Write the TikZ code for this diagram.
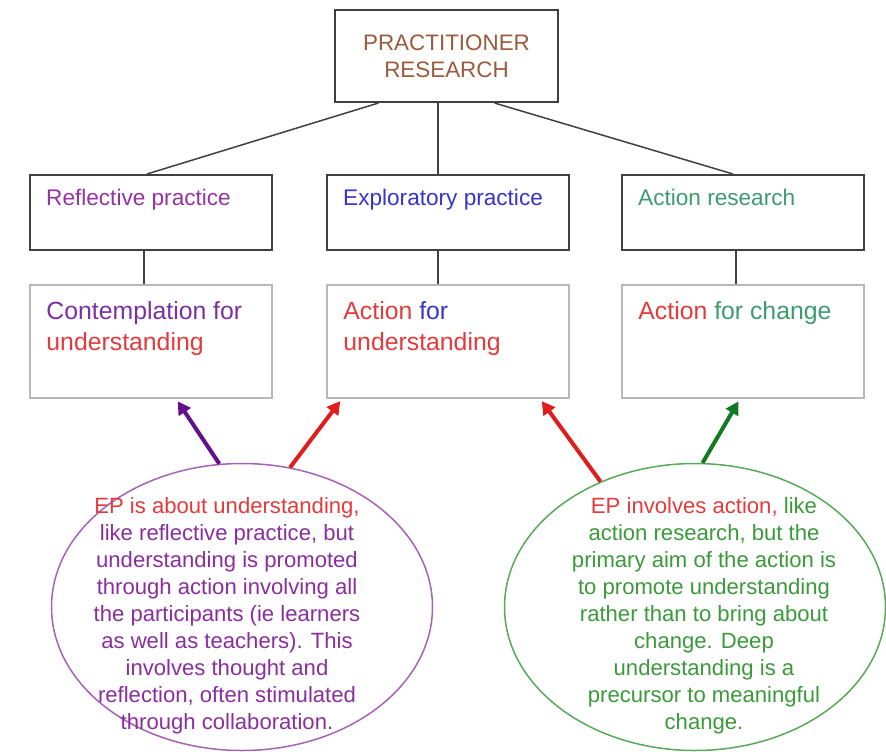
\documentclass[tikz,border=0pt]{standalone}
\usepackage{fontspec}
\setmainfont{Liberation Sans}
\usepackage{xcolor}
\usetikzlibrary{arrows.meta,shapes.geometric}

\definecolor{headbrown}{HTML}{9C5A3C}
\definecolor{reflpurple}{HTML}{9633A3}
\definecolor{explblue}{HTML}{3535C8}
\definecolor{actgreen}{HTML}{3E9A70}
\definecolor{contpurple}{HTML}{7A30A0}
\definecolor{txtred}{HTML}{E33B3B}
\definecolor{ellpurple}{HTML}{8A2E9E}
\definecolor{ellgreen}{HTML}{3A9A3A}
\definecolor{arrpurple}{HTML}{62108E}
\definecolor{arrred}{HTML}{E01C1C}
\definecolor{arrgreen}{HTML}{137A22}

\begin{document}
\begin{tikzpicture}[x=1pt, y=-1pt,
      headbox/.style={draw=black!75, line width=2pt, minimum width=223pt,
          minimum height=92pt, align=center, text=headbrown,
          font=\fontsize{22.4}{27}\selectfont},
      practbox/.style={draw=black!75, line width=2pt, minimum width=242pt,
          minimum height=75pt},
      aimbox/.style={draw=black!28, line width=1.5pt, minimum width=242pt,
          minimum height=113pt},
      practtext/.style={anchor=north west, inner sep=0pt, align=left,
          xshift=17pt, yshift=-15pt, font=\fontsize{22.6}{27}\selectfont},
      aimtext/.style={anchor=north west, inner sep=0pt, align=left,
          xshift=17pt, yshift=-17pt, font=\fontsize{24.8}{31}\selectfont},
      bubble/.style={ellipse, line width=1.5pt, minimum width=381pt,
          minimum height=287pt, inner sep=0pt},
      bubbletext/.style={align=center, inner sep=0pt,
          font=\fontsize{22.1}{27}\selectfont},
      link/.style={draw=black!75, line width=1.5pt},
      pointer/.style={-{Triangle[length=13pt,width=14pt]}, line width=4pt,
          shorten >=3pt}
    ]
    \useasboundingbox (0,0) rectangle (886,753);

    % top of the tree
    \node[headbox] (prac) at (446.5,56) {PRACTITIONER\\RESEARCH};

    % the three kinds of practice
    \node[practbox, label={[practtext, text=reflpurple]north west:Reflective practice}]
        (refl) at (151,212.5) {};
    \node[practbox, label={[practtext, text=explblue]north west:Exploratory practice}]
        (expl) at (448,212.5) {};
    \node[practbox, label={[practtext, text=actgreen]north west:Action research}]
        (actr) at (743,212.5) {};

    % what each one is for
    \node[aimbox, label={[aimtext]north west:{\textcolor{contpurple}{Contemplation for}}\\{\textcolor{txtred}{understanding}}}]
        (contL) at (151,341.5) {};
    \node[aimbox, label={[aimtext]north west:{\textcolor{txtred}{Action} \textcolor{explblue}{for}}\\{\textcolor{txtred}{understanding}}}]
        (contM) at (448,341.5) {};
    \node[aimbox, label={[aimtext]north west:{\textcolor{txtred}{Action} \textcolor{actgreen}{for change}}}]
        (contR) at (743,341.5) {};

    \draw[link] ([xshift=-68]prac.south) -- ([xshift=-4]refl.north);
    \draw[link] ([xshift=-8.5]prac.south) -- ([xshift=-10]expl.north);
    \draw[link] ([xshift=48]prac.south) -- ([xshift=-10]actr.north);
    \draw[link] ([xshift=-7]refl.south) -- ([xshift=-7]contL.north);
    \draw[link] ([xshift=-10]expl.south) -- ([xshift=-10]contM.north);
    \draw[link] ([xshift=-7]actr.south) -- ([xshift=-7]contR.north);

    % the two bubbles
    \node[bubble, draw=ellpurple!75,
        label={[bubbletext, text=ellpurple, xshift=-15pt, yshift=-9pt]center:%
          {\textcolor{txtred}{EP is about understanding,}}\\
          like reflective practice, but\\
          understanding is promoted\\
          through action involving all\\
          the participants (ie learners\\
          as well as teachers). This\\
          involves thought and\\
          reflection, often stimulated\\
          through collaboration.}]
        (ellL) at (242,607) {};
    \node[bubble, draw=ellgreen!85,
        label={[bubbletext, text=ellgreen, xshift=9pt, yshift=-9pt]center:%
          {\textcolor{txtred}{EP involves action,} like}\\
          action research, but the\\
          primary aim of the action is\\
          to promote understanding\\
          rather than to bring about\\
          change. Deep\\
          understanding is a\\
          precursor to meaningful\\
          change.}]
        (ellR) at (695,607) {};

    \draw[pointer, draw=arrpurple] (ellL.99) -- ([xshift=25]contL.south);
    \draw[pointer, draw=arrred] (ellL.71) -- ([xshift=-106]contM.south);
    \draw[pointer, draw=arrred] (ellR.127) -- ([xshift=92]contM.south);
    \draw[pointer, draw=arrgreen] (ellR.87) -- ([xshift=-3]contR.south);
  \end{tikzpicture}
\end{document}
